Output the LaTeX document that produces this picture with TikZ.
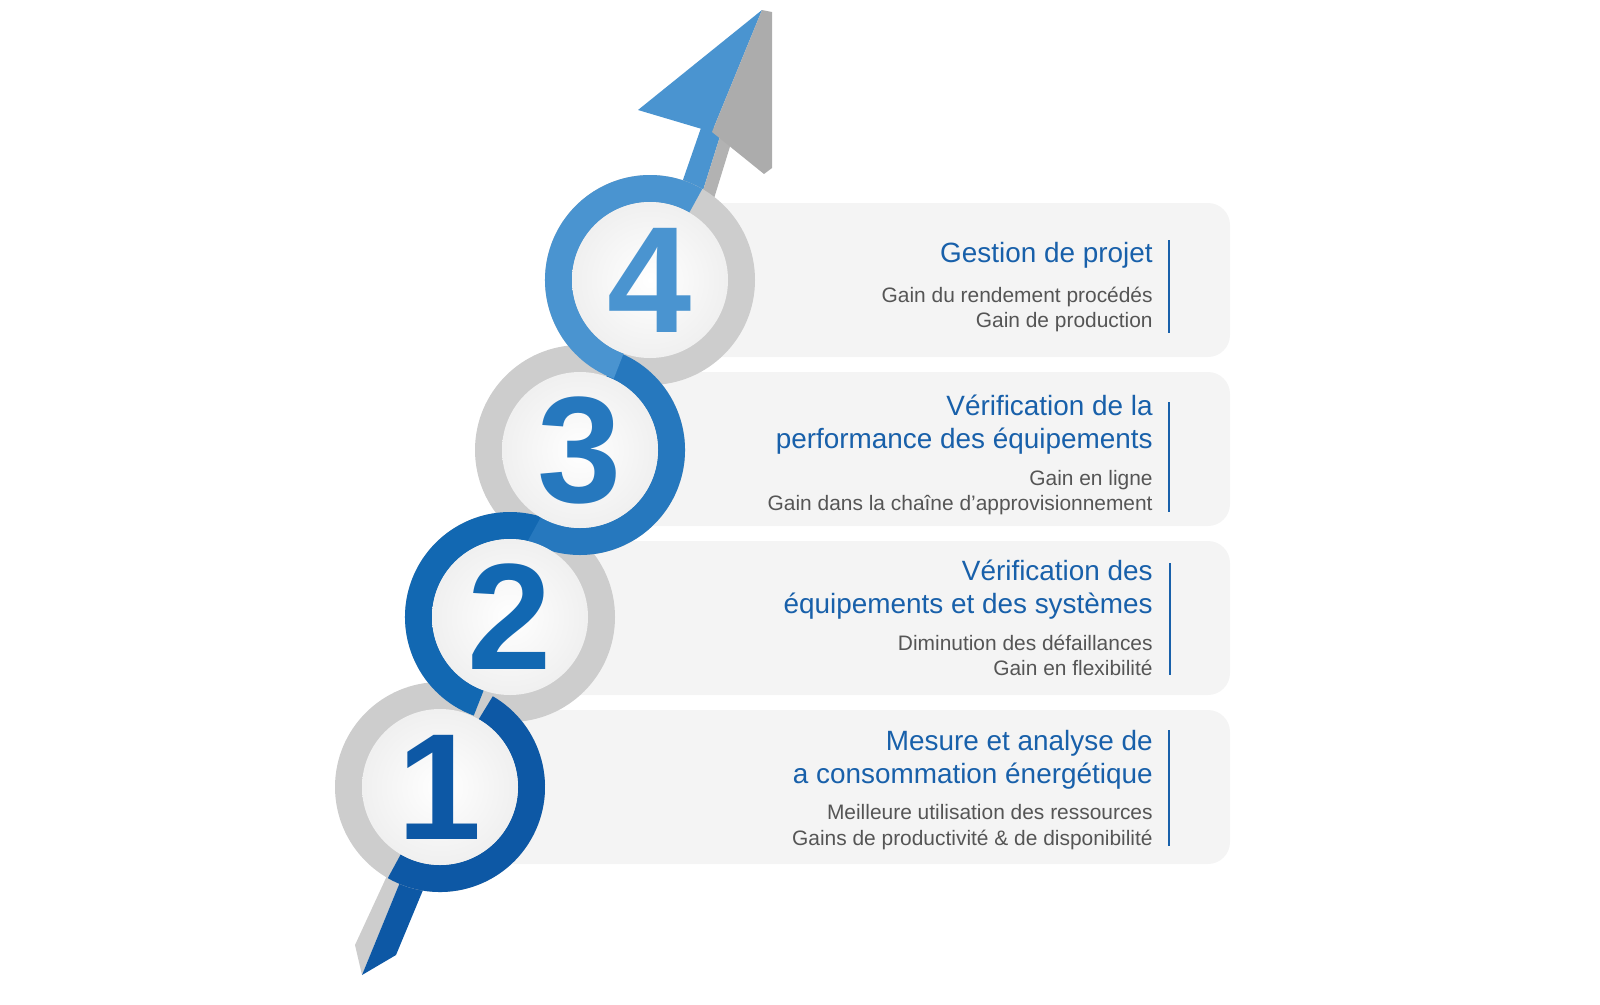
\documentclass[tikz,border=0pt]{standalone}
\usepackage{fontspec}
\setmainfont{Liberation Sans}
\definecolor{panelgray}{RGB}{244,244,244}
\definecolor{ringgray}{RGB}{205,205,205}
\definecolor{blueA}{RGB}{13,88,165}
\definecolor{blueB}{RGB}{18,104,178}
\definecolor{blueC}{RGB}{38,120,190}
\definecolor{blueD}{RGB}{74,148,208}
\definecolor{titleblue}{RGB}{24,96,170}
\definecolor{subgray}{RGB}{85,85,85}
\tikzset{every picture/.style={line width=0.75pt}}
\tikzset{
  panel/.style={fill=panelgray, rounded corners=22bp},
  title/.style={anchor=base east, inner sep=0pt, color=titleblue, font=\fontsize{28}{33}\selectfont},
  sub/.style={anchor=base east, inner sep=0pt, color=subgray, font=\fontsize{21}{25}\selectfont},
  bar/.style={draw=titleblue, line width=1.2pt},
  disc/.style={circle, minimum size=156bp, inner sep=0pt, inner color=white, outer color=gray!12},
  numtxt/.style={font=\fontsize{152}{152}\selectfont\bfseries}
}
\begin{document}
\begin{tikzpicture}[x=1bp,y=1bp,yscale=-1]
\useasboundingbox (0,0) rectangle (1600,1004);

% panels
\fill [panel] (650,203) rectangle (1230,357);
\fill [panel] (580,372) rectangle (1230,526);
\fill [panel] (510,541) rectangle (1230,695);
\fill [panel] (440,710) rectangle (1230,864);

% arrow tail
\fill [ringgray] (355,945) -- (362,975) -- (405,870) -- (392,865) -- cycle;
\fill [blueA] (362,975) -- (396,955) -- (428,878) -- (405,870) -- cycle;
% arrow shaft and head
\fill [blueD] (676,200) -- (700,200) -- (722,130) -- (702,125) -- cycle;
\fill [gray!60] (700,200) -- (712,205) -- (732,140) -- (722,130) -- cycle;
\fill [blueD] (638,110) -- (762,10) -- (712,132) -- cycle;
\fill [gray!65] (762,10) -- (772,12) -- (772,168) -- (764,174) -- (712,132) -- cycle;

% gray rings
\coordinate (c1) at (440,787);
\coordinate (c2) at (510,617);
\coordinate (c3) at (580,450);
\coordinate (c4) at (650,280);
\fill [ringgray] (c1) circle (105);
\fill [ringgray] (c2) circle (105);
\fill [ringgray] (c3) circle (105);
\fill [ringgray] (c4) circle (105);

% blue ribbon
\draw [blueA, line width=27bp] ([shift={(-60:91.5)}]c1) arc (-60:120:91.5);
\draw [blueB, line width=27bp] ([shift={(110:91.5)}]c2) arc (110:300:91.5);
\draw [blueC, line width=27bp] ([shift={(-70:91.5)}]c3) arc (-70:120:91.5);
\draw [blueD, line width=27bp] ([shift={(110:91.5)}]c4) arc (110:300:91.5);

% number discs
\node [disc] (n1) at (c1) {};
\node [disc] (n2) at (c2) {};
\node [disc] (n3) at (c3) {};
\node [disc] (n4) at (c4) {};
\node [numtxt, color=blueA] at (n1) {1};
\node [numtxt, color=blueB] at (n2) {2};
\node [numtxt, color=blueC] at (n3) {3};
\node [numtxt, color=blueD] at (n4) {4};

% Text Node
\node [title] (t4) at (1153,262) {Gestion de projet};
\node [sub] (s4a) at (1153,302) {Gain du rendement procédés};
\node [sub] (s4b) at (1153,327) {Gain de production};
\draw [bar] (1169,240) -- (1169,333);
% Text Node
\node [title] (t3a) at (1153,415) {Vérification de la};
\node [title] (t3b) at (1153,448) {performance des équipements};
\node [sub] (s3a) at (1153,485) {Gain en ligne};
\node [sub] (s3b) at (1153,510) {Gain dans la chaîne d’approvisionnement};
\draw [bar] (1169,402) -- (1169,512);
% Text Node
\node [title] (t2a) at (1153,580) {Vérification des};
\node [title] (t2b) at (1153,613) {équipements et des systèmes};
\node [sub] (s2a) at (1153,650) {Diminution des défaillances};
\node [sub] (s2b) at (1153,675) {Gain en flexibilité};
\draw [bar] (1170,563) -- (1170,675);
% Text Node
\node [title] (t1a) at (1153,750) {Mesure et analyse de};
\node [title] (t1b) at (1153,783) {a consommation énergétique};
\node [sub] (s1a) at (1153,819) {Meilleure utilisation des ressources};
\node [sub] (s1b) at (1153,845) {Gains de productivité \& de disponibilité};
\draw [bar] (1169,730) -- (1169,846);

\end{tikzpicture}
\end{document}
